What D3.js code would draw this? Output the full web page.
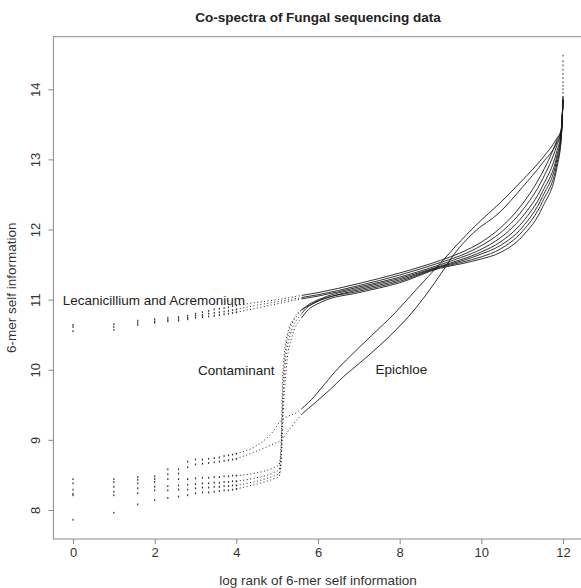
<!DOCTYPE html>
<html>
<head>
<meta charset="utf-8">
<script src="https://cdn.jsdelivr.net/npm/d3@7/dist/d3.min.js"></script>
<style>
  body { margin: 0; background: #fff; }
  svg { font-family: "Liberation Sans", Arial, sans-serif; }
</style>
</head>
<body>
<div class="chart"></div>
<script>
// tick values
const xTicks = [0, 2, 4, 6, 8, 10, 12];
const yTicks = [8, 9, 10, 11, 12, 13, 14];

// self information of the 16 lowest ranked 6-mers (rank 1..16)
const lowL1 = [10.64, 10.65, 10.70, 10.72, 10.74, 10.75, 10.77, 10.80, 10.82, 10.84, 10.86, 10.87, 10.88, 10.89, 10.91, 10.92];
const lowL2 = [10.61, 10.61, 10.67, 10.69, 10.71, 10.72, 10.74, 10.77, 10.78, 10.80, 10.81, 10.82, 10.83, 10.84, 10.85, 10.86];
const lowL3 = [10.55, 10.57, 10.64, 10.67, 10.69, 10.70, 10.72, 10.74, 10.75, 10.76, 10.77, 10.78, 10.79, 10.80, 10.81, 10.82];
const lowE1 = [8.44, 8.44, 8.47, 8.48, 8.58, 8.58, 8.69, 8.72, 8.72, 8.73, 8.74, 8.75, 8.77, 8.78, 8.79, 8.80];
const lowE2 = [8.38, 8.40, 8.43, 8.44, 8.51, 8.52, 8.61, 8.65, 8.66, 8.67, 8.68, 8.69, 8.70, 8.71, 8.72, 8.73];
const lowC1 = [8.29, 8.33, 8.38, 8.40, 8.44, 8.44, 8.44, 8.45, 8.46, 8.46, 8.47, 8.47, 8.48, 8.48, 8.49, 8.49];
const lowC2 = [8.23, 8.26, 8.31, 8.33, 8.34, 8.35, 8.36, 8.37, 8.38, 8.38, 8.39, 8.39, 8.40, 8.40, 8.41, 8.41];
const lowC3 = [8.21, 8.21, 8.24, 8.28, 8.28, 8.29, 8.29, 8.31, 8.32, 8.32, 8.33, 8.33, 8.34, 8.34, 8.35, 8.35];
const lowC4 = [7.86, 7.96, 8.08, 8.14, 8.17, 8.19, 8.21, 8.24, 8.25, 8.25, 8.26, 8.27, 8.28, 8.28, 8.29, 8.30];

// [log2 rank, self information] read along the dense part of each curve
const hiL1 = [[4,10.92],[4.5,10.96],[5,11.0],[5.5,11.05],[6,11.1],[7,11.23],[8,11.38],[9,11.56],[9.5,11.67],[10,11.82],[10.46,12.02],[11,12.36],[11.5,12.82],[11.85,13.27],[11.96,13.45],[12,13.85]];
const hiL2 = [[4,10.86],[4.5,10.92],[5,10.97],[5.5,11.02],[6,11.07],[7,11.2],[8,11.35],[9,11.53],[9.5,11.63],[10,11.77],[10.46,11.95],[11,12.27],[11.5,12.72],[11.85,13.2],[11.96,13.42],[12,13.85]];
const hiL3 = [[4,10.82],[4.5,10.88],[5,10.94],[5.5,11.0],[6,11.05],[7,11.18],[8,11.32],[9,11.5],[9.5,11.6],[10,11.72],[10.46,11.88],[11,12.18],[11.5,12.62],[11.85,13.12],[11.96,13.4],[12,13.85]];
const hiE1 = [[4,8.8],[4.5,8.92],[4.9,9.12],[5.07,9.26],[5.5,9.4],[5.85,9.58],[6.1,9.75],[6.4,9.96],[6.8,10.2],[7.3,10.48],[7.9,10.82],[8.4,11.14],[9.0,11.52],[9.4,11.78],[9.9,12.08],[10.46,12.38],[11.0,12.7],[11.5,13.02],[11.85,13.3],[11.96,13.42],[12,13.9]];
const hiE2 = [[4,8.73],[4.5,8.84],[4.9,8.94],[5.1,9.0],[5.3,9.15],[5.5,9.3],[5.97,9.55],[6.3,9.72],[6.62,9.9],[6.95,10.06],[7.5,10.34],[7.93,10.58],[8.25,10.78],[8.66,11.08],[9.07,11.42],[9.35,11.66],[9.8,11.95],[10.46,12.25],[11.0,12.6],[11.5,12.95],[11.85,13.24],[11.96,13.4],[12,13.9]];
const hiC1 = [[4,8.49],[4.5,8.53],[4.9,8.6],[5.05,8.65],[5.1,9.0],[5.13,9.8],[5.17,10.2],[5.25,10.5],[5.4,10.72],[5.7,10.9],[6.1,11.02],[7,11.16],[8,11.3],[9,11.48],[9.5,11.57],[10,11.68],[10.46,11.82],[11,12.1],[11.5,12.54],[11.85,13.05],[11.96,13.38],[12,13.85]];
const hiC2 = [[4,8.41],[4.5,8.46],[4.9,8.53],[5.05,8.58],[5.1,8.9],[5.14,9.7],[5.2,10.25],[5.3,10.55],[5.5,10.78],[5.9,10.95],[6.3,11.04],[7,11.14],[8,11.28],[9,11.47],[9.5,11.55],[10,11.65],[10.46,11.77],[11,12.03],[11.5,12.47],[11.85,13.0],[11.96,13.36],[12,13.85]];
const hiC3 = [[4,8.35],[4.5,8.41],[4.9,8.48],[5.05,8.52],[5.1,8.8],[5.14,9.5],[5.2,10.1],[5.32,10.5],[5.6,10.8],[6,10.98],[7,11.12],[8,11.26],[9,11.46],[9.5,11.53],[10,11.61],[10.46,11.72],[11,11.97],[11.5,12.4],[11.85,12.94],[11.96,13.34],[12,13.85]];
const hiC4 = [[4,8.3],[4.5,8.37],[4.9,8.44],[5.05,8.48],[5.1,8.7],[5.15,9.4],[5.22,10.0],[5.35,10.45],[5.65,10.78],[6.1,10.97],[7,11.1],[8,11.24],[9,11.45],[9.5,11.51],[10,11.58],[10.46,11.67],[11,11.9],[11.5,12.32],[11.85,12.88],[11.96,13.32],[12,13.85]];

// sparse top-ranked values at log rank 12
const topTail = [13.95, 14.0, 14.05, 14.1, 14.16, 14.22, 14.28, 14.34, 14.4, 14.48];

const curves = [
  { low: lowL1, hi: hiL1 }, { low: lowL2, hi: hiL2 }, { low: lowL3, hi: hiL3 },
  { low: lowE1, hi: hiE1 }, { low: lowE2, hi: hiE2 },
  { low: lowC1, hi: hiC1 }, { low: lowC2, hi: hiC2 }, { low: lowC3, hi: hiC3 }, { low: lowC4, hi: hiC4 }
];

const labels = [
  { text: "Lecanicillium and Acremonium", lx: -0.25, ly: 10.99 },
  { text: "Contaminant", lx: 3.06, ly: 9.99 },
  { text: "Epichloe", lx: 7.41, ly: 10.0 }
];

const width = 581, height = 588;
const svg = d3.select("div.chart").append("svg")
    .attr("width", width)
    .attr("height", height);

const x = d3.scaleLinear().domain([-0.48, 12.48]).range([53.4, 582.6]);
const y = d3.scaleLinear().domain([7.586, 14.75]).range([539, 36.7]);

const axisColor = "#8a8a8a";
const textColor = "#333";

// clip regions: sparse ranks drawn dotted, dense ranks solid
const split = 5.6;
const defs = svg.append("defs");
defs.append("clipPath").attr("id", "sparse").append("rect")
    .attr("x", 0).attr("y", 0).attr("width", x(split)).attr("height", height);
defs.append("clipPath").attr("id", "dense").append("rect")
    .attr("x", x(split)).attr("y", 0).attr("width", width - x(split)).attr("height", height);

const line = d3.line()
    .x(d => x(d[0]))
    .y(d => y(d[1]))
    .curve(d3.curveMonotoneX);

const plot = svg.append("g");

plot.selectAll("path.sparse")
    .data(curves)
    .enter().append("path")
    .attr("class", "sparse")
    .attr("clip-path", "url(#sparse)")
    .attr("d", d => line(d.hi))
    .attr("fill", "none")
    .attr("stroke", "#222")
    .attr("stroke-width", 1)
    .attr("stroke-dasharray", "1,2.5");

plot.selectAll("path.dense")
    .data(curves)
    .enter().append("path")
    .attr("class", "dense")
    .attr("clip-path", "url(#dense)")
    .attr("d", d => line(d.hi))
    .attr("fill", "none")
    .attr("stroke", "#1a1a1a")
    .attr("stroke-width", 0.9);

// individual low ranks
const lowPoints = [];
curves.forEach(c => {
  c.low.forEach((v, i) => lowPoints.push({ lx: Math.log2(i + 1), v: v }));
});
plot.selectAll("rect.pt")
    .data(lowPoints)
    .enter().append("rect")
    .attr("class", "pt")
    .attr("x", d => x(d.lx) - 0.6)
    .attr("y", d => y(d.v) - 0.9)
    .attr("width", 1.2)
    .attr("height", 1.8)
    .attr("fill", "#333");

plot.selectAll("rect.tail")
    .data(topTail)
    .enter().append("rect")
    .attr("class", "tail")
    .attr("x", x(12) - 0.6)
    .attr("y", d => y(d) - 0.9)
    .attr("width", 1.2)
    .attr("height", 1.8)
    .attr("fill", "#555");

// curve labels
plot.selectAll("text.lab")
    .data(labels)
    .enter().append("text")
    .attr("class", "lab")
    .attr("x", d => x(d.lx))
    .attr("y", d => y(d.ly))
    .attr("dy", "0.35em")
    .attr("fill", "#222")
    .style("font-size", "13.5px")
    .text(d => d.text);

// box
svg.append("rect")
    .attr("x", x.range()[0]).attr("y", y.range()[1])
    .attr("width", x.range()[1] - x.range()[0])
    .attr("height", y.range()[0] - y.range()[1])
    .attr("fill", "none")
    .attr("stroke", axisColor)
    .attr("stroke-width", 1);

// axes
const xAxis = svg.append("g")
    .attr("transform", `translate(0,${y.range()[0]})`)
    .call(d3.axisBottom(x).tickValues(xTicks).tickSize(5).tickPadding(4));
const yAxis = svg.append("g")
    .attr("transform", `translate(${x.range()[0]},0)`)
    .call(d3.axisLeft(y).tickValues(yTicks).tickSize(5).tickPadding(4));

[xAxis, yAxis].forEach(a => {
  a.select(".domain").remove();
  a.selectAll(".tick line").attr("stroke", axisColor);
  a.selectAll(".tick text")
    .attr("fill", textColor)
    .style("font-size", "13px")
    .style("font-family", "'Liberation Sans', Arial, sans-serif");
});

yAxis.selectAll(".tick text")
    .attr("text-anchor", "middle")
    .attr("x", null)
    .attr("dy", null)
    .attr("transform", "translate(-13.5,0) rotate(-90)")
    .attr("y", 0);

svg.append("text")
    .attr("x", (x.range()[0] + x.range()[1]) / 2)
    .attr("y", 22)
    .attr("text-anchor", "middle")
    .attr("fill", "#222")
    .style("font-size", "13.5px")
    .style("font-weight", "bold")
    .text("Co-spectra of Fungal sequencing data");

svg.append("text")
    .attr("x", (x.range()[0] + x.range()[1]) / 2)
    .attr("y", 585)
    .attr("text-anchor", "middle")
    .attr("fill", textColor)
    .style("font-size", "13.5px")
    .text("log rank of 6-mer self information");

svg.append("text")
    .attr("transform", `translate(16,${(y.range()[0] + y.range()[1]) / 2}) rotate(-90)`)
    .attr("text-anchor", "middle")
    .attr("fill", textColor)
    .style("font-size", "13.5px")
    .text("6-mer self information");
</script>
</body>
</html>
